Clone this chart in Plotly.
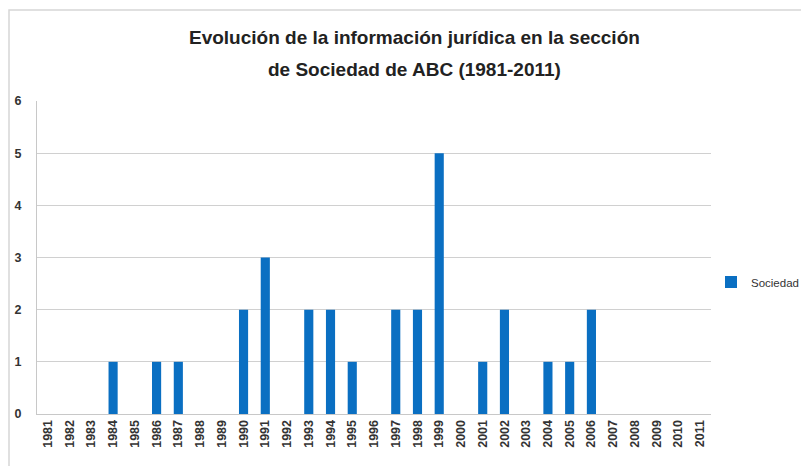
import plotly.graph_objects as go

years = [str(y) for y in range(1981, 2012)]
values = [0, 0, 0, 1, 0, 1, 1, 0, 0, 2, 3, 0, 2, 2, 1, 0, 2, 2, 5, 0, 1, 2, 0, 1, 1, 2, 0, 0, 0, 0, 0]
series_name = "Sociedad"
title_lines = ["Evolución de la información jurídica en la sección", "de Sociedad de ABC (1981-2011)"]

# page body has an 8px margin; figure sized to fill the rest of the window
OFF = 8
W, H = 809 - OFF, 466 - OFF
L, R, T, B = 37 - OFF, 98, 101 - OFF, 52
pw = W - L - R
ph = H - T - B


def px(xw):
    return (xw - OFF - L) / pw


def py(yw):
    return (H - B - (yw - OFF)) / ph


fig = go.Figure()
fig.add_trace(go.Bar(x=years, y=values, name=series_name, marker_color="#0A6FC2",
                     marker_line_width=0))

fig.update_layout(
    width=W, height=H,
    margin=dict(l=L, r=R, t=T, b=B, autoexpand=False),
    paper_bgcolor="white", plot_bgcolor="white",
    bargap=0.58,
    showlegend=True,
    legend=dict(x=px(711), y=py(282), xanchor="left", yanchor="middle",
                font=dict(family="Liberation Sans, Arial", size=11.5, color="#333"),
                itemwidth=30, bgcolor="rgba(0,0,0,0)"),
    font=dict(family="Liberation Sans, Arial", color="#333"),
)
fig.update_xaxes(type="category", tickangle=-90, showgrid=False, showline=True,
                 linecolor="#c8c8c8", linewidth=1, ticks="", automargin=False,
                 tickfont=dict(family="Liberation Sans, Arial", size=12.5, color="#333", weight="bold"))
fig.update_yaxes(range=[0, 6], dtick=1, showgrid=True, gridcolor="#d0d0d0", gridwidth=1,
                 showline=True, linecolor="#c8c8c8", linewidth=1, zeroline=False, ticks="",
                 automargin=False,
                 tickfont=dict(family="Liberation Sans, Arial", size=12.5, color="#333", weight="bold"),
                 ticklabelstandoff=12)

# chart border
fig.add_shape(type="rect", xref="paper", yref="paper",
              x0=px(9), x1=px(830),
              y0=py(480), y1=py(10),
              line=dict(color="#d6d6d6", width=1.5), fillcolor="rgba(0,0,0,0)", layer="below")

for txt, yw in zip(title_lines, [37, 70]):
    fig.add_annotation(text="<b>" + txt + "</b>", xref="paper", yref="paper",
                       x=px(414), y=py(yw), xanchor="center", yanchor="middle",
                       showarrow=False,
                       font=dict(family="Liberation Sans Narrow, Arial Narrow, Arial", size=19, color="#222"))

fig.write_html("out.html")
